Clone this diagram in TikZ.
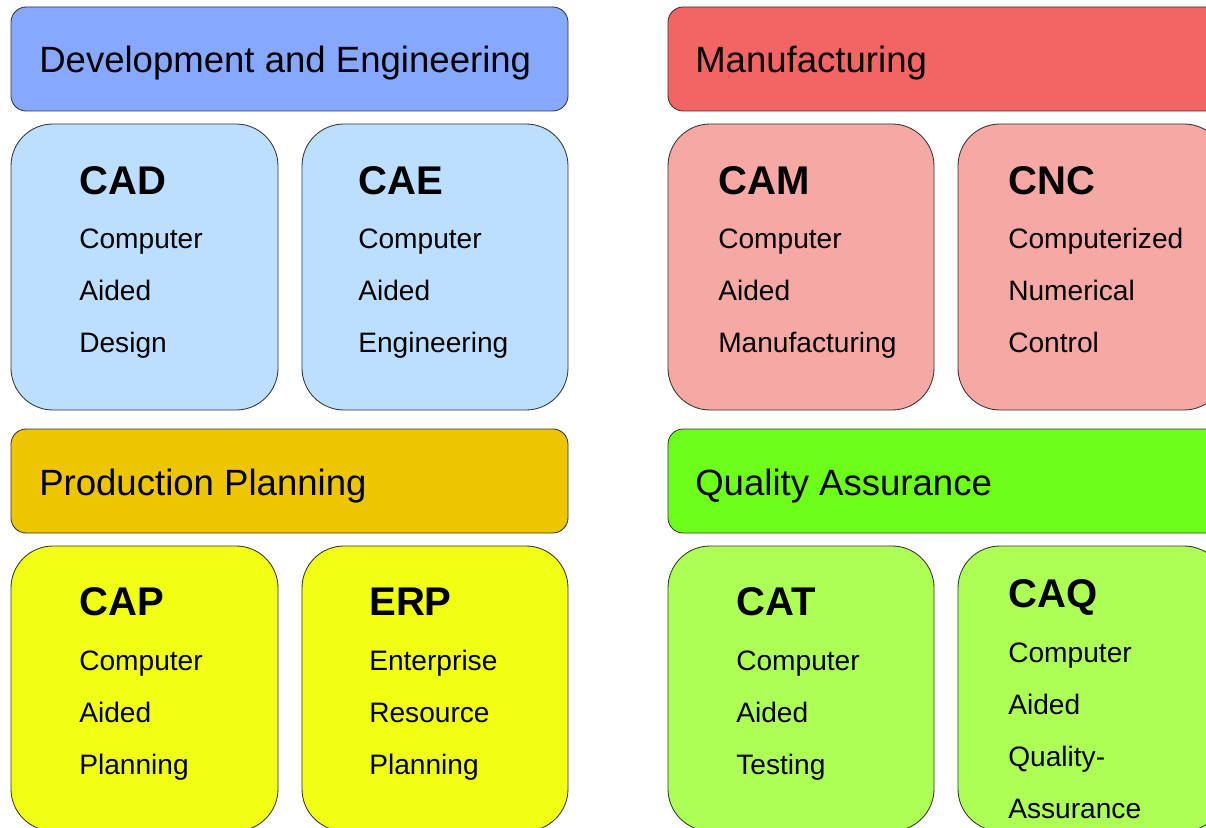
\documentclass[tikz,border=0pt]{standalone}
\usepackage{fontspec}
\setmainfont{Liberation Sans}
\usepackage{tikz}
\definecolor{deblue}{RGB}{134,168,255}
\definecolor{cadblue}{RGB}{189,223,255}
\definecolor{manred}{RGB}{243,100,100}
\definecolor{camred}{RGB}{246,168,165}
\definecolor{ppgold}{RGB}{237,197,0}
\definecolor{capyellow}{RGB}{240,255,20}
\definecolor{qagreen}{RGB}{109,255,27}
\definecolor{catgreen}{RGB}{173,255,85}
\tikzset{head/.style = {draw=black!80, line width=0.6pt, rounded corners=0.38cm},
         unit/.style = {draw=black!80, line width=0.6pt, rounded corners=1.05cm},
         headtext/.style = {anchor=base west, inner sep=0pt, font=\fontsize{26}{30}\selectfont},
         title/.style = {anchor=base west, inner sep=0pt, font=\fontsize{28.5}{32}\selectfont\bfseries},
         desc/.style = {anchor=base west, inner sep=0pt, font=\fontsize{20}{24}\selectfont}}

\begin{document}
\begin{tikzpicture}[x=0.025cm, y=-0.025cm]
    \useasboundingbox (0,0) rectangle (1206,828);
    \fill [white] (0,0) rectangle (1206,828);
    \clip (0,0) rectangle (1206,828);

    % development and engineering
    \draw [head, fill=deblue] (11,7) rectangle (568,111);
    \node [headtext] (dev) at (39,73) {Development and Engineering};
    \draw [unit, fill=cadblue] (11,124) rectangle (278,410);
    \node [title] (cad) at (79,194) {CAD};
    \foreach \t [count=\i] in {Computer, Aided, Design}
      \node [desc] (cad-\i) at (79,196+52*\i) {\t};
    \draw [unit, fill=cadblue] (302,124) rectangle (568,410);
    \node [title] (cae) at (358,194) {CAE};
    \foreach \t [count=\i] in {Computer, Aided, Engineering}
      \node [desc] (cae-\i) at (358,196+52*\i) {\t};

    % manufacturing
    \draw [head, fill=manred] (668,7) rectangle (1226,111);
    \node [headtext] (man) at (695,73) {Manufacturing};
    \draw [unit, fill=camred] (668,124) rectangle (934,410);
    \node [title] (cam) at (718,194) {CAM};
    \foreach \t [count=\i] in {Computer, Aided, Manufacturing}
      \node [desc] (cam-\i) at (718,196+52*\i) {\t};
    \draw [unit, fill=camred] (958,124) rectangle (1226,410);
    \node [title] (cnc) at (1008,194) {CNC};
    \foreach \t [count=\i] in {Computerized, Numerical, Control}
      \node [desc] (cnc-\i) at (1008,196+52*\i) {\t};

    % production planning
    \draw [head, fill=ppgold] (11,429) rectangle (568,533);
    \node [headtext] (pp) at (39,495) {Production Planning};
    \draw [unit, fill=capyellow] (11,546) rectangle (278,831);
    \node [title] (cap) at (79,615) {CAP};
    \foreach \t [count=\i] in {Computer, Aided, Planning}
      \node [desc] (cap-\i) at (79,618+52*\i) {\t};
    \draw [unit, fill=capyellow] (302,546) rectangle (568,831);
    \node [title] (erp) at (369,615) {ERP};
    \foreach \t [count=\i] in {Enterprise, Resource, Planning}
      \node [desc] (erp-\i) at (369,618+52*\i) {\t};

    % quality assurance
    \draw [head, fill=qagreen] (668,429) rectangle (1226,533);
    \node [headtext] (qa) at (695,495) {Quality Assurance};
    \draw [unit, fill=catgreen] (668,546) rectangle (934,831);
    \node [title] (cat) at (736,615) {CAT};
    \foreach \t [count=\i] in {Computer, Aided, Testing}
      \node [desc] (cat-\i) at (736,618+52*\i) {\t};
    \draw [unit, fill=catgreen] (958,546) rectangle (1226,831);
    \node [title] (caq) at (1008,607) {CAQ};
    \foreach \t [count=\i] in {Computer, Aided, Quality-, Assurance}
      \node [desc] (caq-\i) at (1008,610+52*\i) {\t};
\end{tikzpicture}
\end{document}
